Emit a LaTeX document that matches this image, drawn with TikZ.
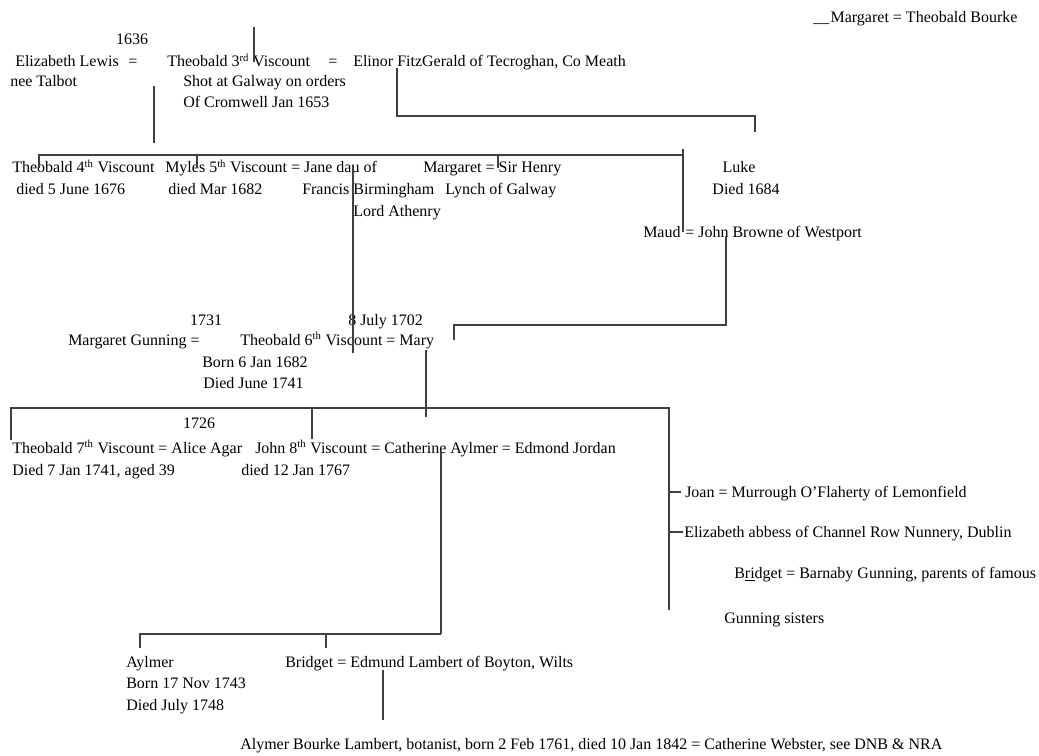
\documentclass[tikz,border=0pt]{standalone}
\usepackage{fontspec}
\setmainfont{Liberation Serif}
\begin{document}
\begin{tikzpicture}[x=0.75pt,y=-0.75pt,
  t/.style={inner sep=0pt, anchor=base west, font=\fontsize{12}{14}\selectfont},
  tc/.style={t, anchor=base},
  ln/.style={draw=black!75, line width=0.9pt}]
\useasboundingbox[fill=white] (0,0) rectangle (1039,756);

% ---- texts ----
\node[t] (mtb) at (813,23) {\_\_\kern1pt Margaret = Theobald Bourke};
\node[tc] (y1636) at (132,45) {1636};
\node[t] (eliz) at (15,67) {Elizabeth Lewis};
\node[tc] (eq1) at (133,67) {=};
\node[t] (theo3) at (167,67) {Theobald 3\textsuperscript{rd} Viscount};
\node[tc] (eq2) at (333,67) {=};
\node[t] (elinor) at (353,67) {Elinor FitzGerald of Tecroghan, Co Meath};
\node[t] (nee) at (10,87) {nee Talbot};
\node[t] (shot) at (183,87) {Shot at Galway on orders};
\node[t] (crom) at (183,108) {Of Cromwell Jan 1653};

\node[t] (theo4) at (12,173) {Theobald 4\textsuperscript{th} Viscount};
\node[t] (theo4d) at (16,195) {died 5 June 1676};
\node[t] (myles) at (165,173) {Myles 5\textsuperscript{th} Viscount = Jane dau of};
\node[t] (mylesd) at (168,195) {died Mar 1682};
\node[t] (franc) at (302,195) {Francis Birmingham};
\node[t] (athen) at (353,217) {Lord Athenry};
\node[t] (marg) at (423,173) {Margaret = Sir Henry};
\node[t] (lynch) at (445,195) {Lynch of Galway};
\node[tc] (luke) at (739,173) {Luke};
\node[tc] (luked) at (746,195) {Died 1684};
\node[t] (maud) at (643,238) {Maud};
\node[t] (browne) at (685,238) {= John Browne of Westport};

\node[tc] (y1731) at (206,325) {1731};
\node[t] (y1702) at (348,325) {8 July 1702};
\node[t] (mgun) at (68,345) {Margaret Gunning =};
\node[t] (theo6) at (240,345) {Theobald 6\textsuperscript{th} Viscount = Mary};
\node[t] (theo6b) at (202,367) {Born 6 Jan 1682};
\node[t] (theo6d) at (203,388) {Died June 1741};

\node[tc] (y1726) at (199,428) {1726};
\node[t] (theo7) at (12,453) {Theobald 7\textsuperscript{th} Viscount = Alice Agar};
\node[t] (theo7d) at (12,475) {Died 7 Jan 1741, aged 39};
\node[t] (john8) at (255,453) {John 8\textsuperscript{th} Viscount = Catherine Aylmer = Edmond Jordan};
\node[t] (john8d) at (241,475) {died 12 Jan 1767};

\node[t] (joan) at (685,497) {Joan = Murrough O’Flaherty of Lemonfield};
\node[t] (abbess) at (684,537) {Elizabeth abbess of Channel Row Nunnery, Dublin};
\node[t] (bridg1) at (734,578) {B\underline{ri}dget = Barnaby Gunning, parents of famous};
\node[t] (gsis) at (724,623) {Gunning sisters};

\node[t] (aylm) at (126,667) {Aylmer};
\node[t] (aylmb) at (126,688) {Born 17 Nov 1743};
\node[t] (aylmd) at (126,710) {Died July 1748};
\node[t] (bridg2) at (285,667) {Bridget = Edmund Lambert of Boyton, Wilts};
\node[t] (alym) at (240,749) {Alymer Bourke Lambert, botanist, born 2 Feb 1761, died 10 Jan 1842 = Catherine Webster, see DNB \& NRA};

% ---- connector points ----
\coordinate (a1) at (254,27);  \coordinate (a2) at (254,62);
\coordinate (b1) at (154,86);  \coordinate (b2) at (154,143);
\coordinate (c1) at (397,68);  \coordinate (c2) at (397,116);
\coordinate (c3) at (755,116); \coordinate (c4) at (755,132);
\coordinate (d1) at (39,168);  \coordinate (d2) at (39,155);
\coordinate (d3) at (683,155);
\coordinate (d4) at (197,155); \coordinate (d5) at (197,168);
\coordinate (d6) at (498,155); \coordinate (d7) at (498,168);
\coordinate (d8) at (683,149); \coordinate (d9) at (683,232);
\coordinate (e1) at (353,165); \coordinate (e2) at (353,353);
\coordinate (f1) at (726,237); \coordinate (f2) at (726,325);
\coordinate (f3) at (454,325); \coordinate (f4) at (454,340);
\coordinate (g1) at (426,350); \coordinate (g2) at (426,417);
\coordinate (h1) at (11,440);  \coordinate (h2) at (11,408);
\coordinate (h3) at (669,408); \coordinate (h4) at (669,610);
\coordinate (h5) at (312,408); \coordinate (h6) at (312,439);
\coordinate (h7) at (669,492); \coordinate (h8) at (681,492);
\coordinate (h9) at (669,532); \coordinate (h10) at (683,532);
\coordinate (k1) at (441,452); \coordinate (k2) at (441,634);
\coordinate (k3) at (140,648); \coordinate (k4) at (140,634);
\coordinate (k5) at (326,634); \coordinate (k6) at (326,648);
\coordinate (m1) at (383,670); \coordinate (m2) at (383,720);

% ---- connectors ----
\draw[ln] (a1) -- (a2);
\draw[ln] (b1) -- (b2);
\draw[ln] (c1) -- (c2) -- (c3) -- (c4);
\draw[ln] (d1) -- (d2) -- (d3);
\draw[ln] (d4) -- (d5);
\draw[ln] (d6) -- (d7);
\draw[ln] (d8) -- (d9);
\draw[ln] (e1) -- (e2);
\draw[ln] (f1) -- (f2) -- (f3) -- (f4);
\draw[ln] (g1) -- (g2);
\draw[ln] (h1) -- (h2) -- (h3) -- (h4);
\draw[ln] (h5) -- (h6);
\draw[ln] (h7) -- (h8);
\draw[ln] (h9) -- (h10);
\draw[ln] (k1) -- (k2);
\draw[ln] (k3) -- (k4) -- (k5);
\draw[ln] (k5) -- (k6);
\draw[ln] (k2) -- (k5);
\draw[ln] (m1) -- (m2);
\end{tikzpicture}
\end{document}
